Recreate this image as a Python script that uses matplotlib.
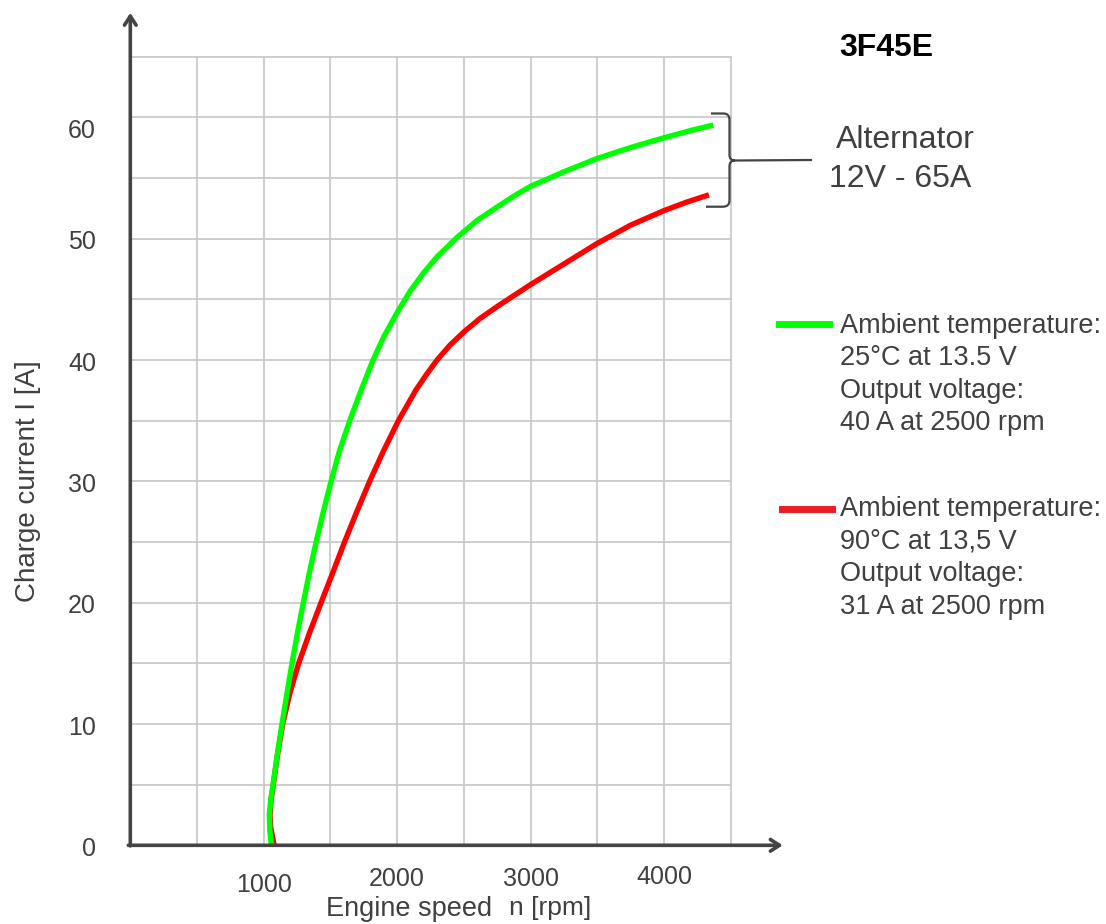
import numpy as np
import matplotlib
matplotlib.use("Agg")
import matplotlib.pyplot as plt
from matplotlib.path import Path
from matplotlib.patches import PathPatch
from matplotlib.lines import Line2D
from matplotlib.transforms import Affine2D, blended_transform_factory

plt.rcParams['font.family'] = ['Liberation Sans', 'DejaVu Sans']

# ---------------- data ----------------
green_rpm = [1058, 1046, 1042, 1053, 1070, 1102, 1137, 1174, 1212, 1253, 1297, 1343,
             1393, 1447, 1505, 1568, 1645, 1730, 1820, 1900, 2000, 2100, 2200, 2300,
             2450, 2600, 2750, 2875, 3000, 3250, 3500, 3750, 4000, 4200, 4370]
green_A = [0.0, 1.2, 2.5, 3.8, 5.0, 7.5, 10.0, 12.5, 15.0, 17.5, 20.0, 22.5,
           25.0, 27.5, 30.0, 32.5, 35.0, 37.5, 40.0, 41.9, 43.9, 45.7, 47.2, 48.5,
           50.1, 51.5, 52.6, 53.5, 54.3, 55.5, 56.6, 57.5, 58.3, 58.9, 59.35]

red_rpm = [1078, 1052, 1047, 1056, 1072, 1104, 1142, 1195, 1262, 1343, 1430, 1519,
           1606, 1698, 1794, 1898, 2010, 2140, 2220, 2300, 2395, 2500, 2620, 2750,
           3000, 3250, 3500, 3750, 4000, 4170, 4337]
red_A = [0.0, 1.5, 2.5, 3.8, 5.0, 7.5, 10.0, 12.5, 15.0, 17.5, 20.0, 22.5,
         25.0, 27.5, 30.0, 32.5, 35.0, 37.5, 38.8, 40.0, 41.2, 42.3, 43.4, 44.4,
         46.2, 47.9, 49.6, 51.1, 52.3, 53.0, 53.6]

x_ticks = [1000, 2000, 3000, 4000]
y_ticks = [0, 10, 20, 30, 40, 50, 60]

title = "3F45E"
alt_lines = ["Alternator", "12V - 65A"]
green_label = ["Ambient temperature:", "25°C at 13.5 V", "Output voltage:", "40 A at 2500 rpm"]
red_label = ["Ambient temperature:", "90°C at 13,5 V", "Output voltage:", "31 A at 2500 rpm"]

# ---------------- style ----------------
W, H = 1106, 924
TXT = '#404040'
AX = '#444444'
GRID = '#c6c6c6'
GREEN = '#00ff00'
RED = '#ff0000'
RED_LEG = '#ed1c24'

fig = plt.figure(figsize=(W / 100, H / 100), dpi=100)
ax_l, ax_r, ax_b, ax_t = 130.3, 730.7, 845.3, 56.5
ax = fig.add_axes([ax_l / W, 1 - ax_b / H, (ax_r - ax_l) / W, (ax_b - ax_t) / H])
ax.set_xlim(0, 4500)
ax.set_ylim(0, 65)
ax.set_axis_off()

# pixel transform (origin top-left)
pix = Affine2D().scale(1 / W, -1 / H).translate(0, 1) + fig.transFigure

# grid
for gx in np.arange(500, 4501, 500):
    ax.axvline(gx, color=GRID, lw=1.2, clip_on=False, zorder=1)
for gy in np.arange(5, 66, 5):
    ax.axhline(gy, color=GRID, lw=1.2, clip_on=False, zorder=1)

# curves
ax.plot(red_rpm, red_A, color=RED, lw=3.9, solid_joinstyle='round',
        solid_capstyle='butt', zorder=3)
ax.plot(green_rpm, green_A, color=GREEN, lw=3.9, solid_joinstyle='round',
        solid_capstyle='butt', zorder=4)

# axes with arrows
arrow = dict(arrowstyle='->,head_length=0.65,head_width=0.42', lw=2.6, color=AX,
             shrinkA=0, shrinkB=0)
ax.annotate('', xy=(0, 68.6), xytext=(0, -0.05), arrowprops=arrow,
            annotation_clip=False, zorder=5)
ax.annotate('', xy=(4890, 0), xytext=(-15, 0), arrowprops=arrow,
            annotation_clip=False, zorder=5)

# tick labels
xt = blended_transform_factory(ax.transData, pix)
x_label_y = [885, 878.7, 878.7, 877]
for v, py in zip(x_ticks, x_label_y):
    ax.text(v, py, str(v), transform=xt, ha='center', va='center',
            fontsize=18, color=TXT)
yt = blended_transform_factory(pix, ax.transData)
for v in y_ticks:
    yy = v - 0.85 if v == 60 else v
    ax.text(96, yy - 0.3, str(v), transform=yt, ha='right', va='center',
            fontsize=18, color=TXT)

# axis labels
fig.text(28.5 / W, 1 - 481 / H, "Charge current I [A]", rotation=90,
         ha='center', va='center', fontsize=20, color=TXT)
fig.text(326 / W, 1 - 916 / H, "Engine speed", ha='left', va='baseline',
         fontsize=19.5, color=TXT)
fig.text(509 / W, 1 - 915 / H, "n [rpm]", ha='left', va='baseline',
         fontsize=19, color=TXT)

# title
fig.text(886 / W, 1 - 48 / H, title, ha='center', va='center', fontsize=23,
         fontweight='bold', color='black')

# alternator annotation
fig.text(905 / W, 1 - 139.5 / H, alt_lines[0], ha='center', va='center',
         fontsize=23, color=TXT)
fig.text(900 / W, 1 - 179 / H, alt_lines[1], ha='center', va='center',
         fontsize=23, color=TXT)

# brace
verts = [(711, 113.5), (723.5, 113.5), (729.5, 113.5), (729.5, 120),
         (729.5, 155), (729.5, 160.5), (735, 160.5),
         (735, 160.5), (729.5, 160.5), (729.5, 166),
         (729.5, 200.5), (729.5, 206.7), (723, 206.7), (706, 206.7)]
codes = [Path.MOVETO, Path.LINETO, Path.CURVE3, Path.CURVE3,
         Path.LINETO, Path.CURVE3, Path.CURVE3,
         Path.MOVETO, Path.CURVE3, Path.CURVE3,
         Path.LINETO, Path.CURVE3, Path.CURVE3, Path.LINETO]
fig.patches.append(PathPatch(Path(verts, codes), transform=pix, fill=False,
                             edgecolor=AX, lw=1.6))
fig.lines.append(Line2D([735, 811], [160.5, 160], transform=pix, color=AX, lw=1.6))

# legend
fig.lines.append(Line2D([779, 829], [324, 324], transform=pix, color=GREEN, lw=5))
fig.lines.append(Line2D([782, 832], [508.5, 508.5], transform=pix, color=RED_LEG, lw=5))
for i, s in enumerate(green_label):
    fig.text(839.5 / W, 1 - (333 + 32.3 * i) / H, s, ha='left', va='baseline',
             fontsize=19.5, color=TXT)
for i, s in enumerate(red_label):
    fig.text(839.5 / W, 1 - (516 + 32.7 * i) / H, s, ha='left', va='baseline',
             fontsize=19.5, color=TXT)

fig.savefig("out.png", dpi=100)
